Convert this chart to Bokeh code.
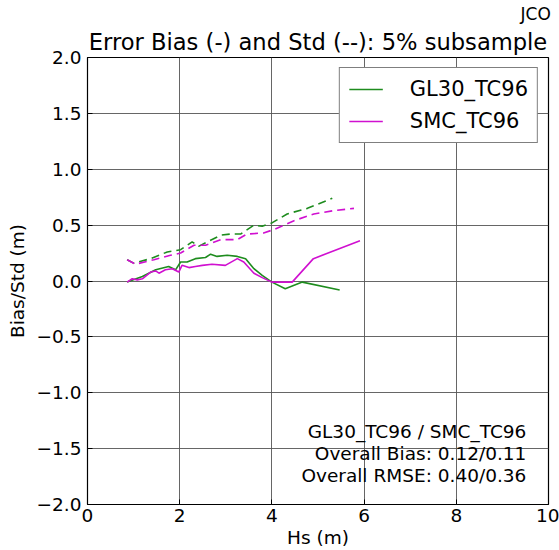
from bokeh.plotting import figure
from bokeh.models import Label, FixedTicker, Legend, LegendItem, Title
from bokeh.embed import file_html
from bokeh.resources import INLINE

# --- data -------------------------------------------------------------
gl_bias_hs = [0.86, 1.19, 1.48, 1.76, 1.91, 2.02, 2.16, 2.34, 2.56, 2.67, 2.81, 3.03, 3.25, 3.43, 3.61, 3.79, 4.00, 4.29, 4.66, 5.47]
gl_bias    = [-0.01, 0.04, 0.10, 0.13, 0.10, 0.17, 0.17, 0.20, 0.21, 0.24, 0.22, 0.23, 0.22, 0.20, 0.11, 0.05, -0.01, -0.07, -0.01, -0.08]

smc_bias_hs = [0.86, 0.97, 1.08, 1.19, 1.37, 1.48, 1.55, 1.69, 1.84, 1.98, 2.05, 2.20, 2.34, 2.49, 2.70, 2.99, 3.25, 3.39, 3.61, 3.79, 4.00, 4.18, 4.44, 4.90, 5.91]
smc_bias    = [-0.01, 0.02, 0.01, 0.02, 0.08, 0.09, 0.07, 0.10, 0.11, 0.08, 0.14, 0.12, 0.13, 0.14, 0.15, 0.14, 0.20, 0.17, 0.07, 0.03, -0.01, -0.01, -0.01, 0.20, 0.36]

gl_std_hs = [0.86, 1.00, 1.37, 1.73, 2.02, 2.27, 2.41, 2.89, 3.10, 3.32, 3.61, 3.79, 4.00, 4.33, 4.77, 5.31]
gl_std    = [0.19, 0.16, 0.20, 0.26, 0.28, 0.35, 0.31, 0.41, 0.42, 0.42, 0.50, 0.49, 0.52, 0.60, 0.65, 0.74]

smc_std_hs = [0.86, 1.04, 1.44, 1.80, 2.02, 2.31, 2.56, 2.89, 3.25, 3.46, 3.82, 4.04, 4.48, 4.91, 5.34, 5.78]
smc_std    = [0.19, 0.15, 0.19, 0.23, 0.25, 0.32, 0.32, 0.37, 0.37, 0.42, 0.43, 0.46, 0.54, 0.60, 0.63, 0.65]

x_ticks = [0, 2, 4, 6, 8, 10]
y_ticks = [-2.0, -1.5, -1.0, -0.5, 0.0, 0.5, 1.0, 1.5, 2.0]
y_tick_labels = ["\u22122.0", "\u22121.5", "\u22121.0", "\u22120.5", "0.0", "0.5", "1.0", "1.5", "2.0"]

series_names = ["GL30_TC96", "SMC_TC96"]
stats_lines = ["GL30_TC96 / SMC_TC96", "Overall Bias: 0.12/0.11", "Overall RMSE: 0.40/0.36"]
title_text = "Error Bias (-) and Std (--): 5% subsample"
corner_text = "JCO"

# --- styling ----------------------------------------------------------
FONT = "DejaVu Sans"
GREEN = "#1e8c1e"
MAGENTA = "#d010d0"

p = figure(width=559, height=550, output_backend="svg", toolbar_location=None,
           x_range=(0, 10), y_range=(-2, 2),
           min_border_left=87, min_border_right=11, min_border_top=57, min_border_bottom=45)

main_title = Title(text=title_text, align="center", text_font=FONT, text_font_size="22.6px",
                   text_font_style="normal", text_color="black", standoff=6)
p.add_layout(main_title, "above")
corner = Title(text=corner_text, align="left", offset=433, text_font=FONT, text_font_size="17px",
               text_font_style="normal", text_color="black", standoff=0)
p.add_layout(corner, "above")

p.outline_line_color = "black"
p.outline_line_width = 1.2

p.xaxis.ticker = FixedTicker(ticks=x_ticks)
p.yaxis.ticker = FixedTicker(ticks=y_ticks)
p.yaxis.major_label_overrides = {t: l for t, l in zip(y_ticks, y_tick_labels)}
p.xaxis.major_label_overrides = {t: str(t) for t in x_ticks}

for ax in (p.xaxis, p.yaxis):
    ax.axis_line_color = None
    ax.major_tick_in = 5
    ax.major_tick_out = 0
    ax.minor_tick_line_color = None
    ax.major_label_text_font = FONT
    ax.major_label_text_font_size = "18.5px"
    ax.major_label_text_color = "black"
    ax.axis_label_text_font = FONT
    ax.axis_label_text_font_size = "18.5px"
    ax.axis_label_text_font_style = "normal"
    ax.axis_label_text_color = "black"

p.xaxis.axis_label = "Hs (m)"
p.yaxis.axis_label = "Bias/Std (m)"
p.xaxis.major_label_standoff = 4
p.yaxis.major_label_standoff = 6
p.xaxis.axis_label_standoff = 2
p.yaxis.axis_label_standoff = 6

p.grid.grid_line_color = "#555555"
p.grid.grid_line_width = 1
p.grid.grid_line_alpha = 0.9

r1 = p.line(gl_bias_hs, gl_bias, line_color=GREEN, line_width=1.6)
r2 = p.line(smc_bias_hs, smc_bias, line_color=MAGENTA, line_width=1.6)
p.line(gl_std_hs, gl_std, line_color=GREEN, line_width=1.6, line_dash="8 5")
p.line(smc_std_hs, smc_std, line_color=MAGENTA, line_width=1.6, line_dash="8 5")

legend = Legend(items=[LegendItem(label=series_names[0], renderers=[r1]),
                       LegendItem(label=series_names[1], renderers=[r2])],
                location="top_right")
legend.border_line_color = "black"
legend.border_line_width = 1.2
legend.background_fill_alpha = 1
legend.label_text_font = FONT
legend.label_text_font_size = "21px"
legend.label_text_color = "black"
legend.glyph_width = 34
legend.label_standoff = 27
legend.padding = 9
legend.spacing = 8
legend.margin = 10
legend.label_height = 18
legend.glyph_height = 18
p.add_layout(legend)

for i, txt in enumerate(stats_lines):
    p.add_layout(Label(x=9.52, y=-1.35 - 0.197 * i, text=txt, text_align="right",
                       text_baseline="middle", text_font=FONT, text_font_size="18.5px",
                       text_color="black"))

open("out.html", "w").write(file_html(p, INLINE))
